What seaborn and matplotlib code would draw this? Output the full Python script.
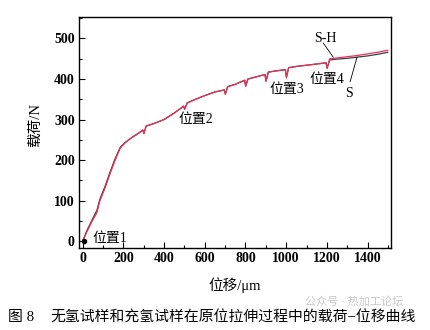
import matplotlib
matplotlib.use("Agg")
import matplotlib.pyplot as plt
import numpy as np
import pandas as pd
import seaborn as sns
from matplotlib.ticker import MultipleLocator

# Load-displacement readings for the hydrogen-free (S) and hydrogen-charged (S-H) specimens
disp_um = [0, 20, 45, 70, 85, 110, 135, 160, 185, 210, 240, 265, 296, 301, 312,
           350, 400, 450, 496, 501, 514, 550, 600, 650, 696, 701, 712, 750,
           796, 801, 812, 850, 896, 901, 912, 950, 996, 1001, 1012, 1050,
           1100, 1150, 1196, 1201, 1214, 1250, 1300, 1350, 1400, 1450, 1500]
load_sh = [0, 22, 48, 70, 100, 131, 167, 200, 230, 243, 255, 263, 274, 265, 284,
           290, 300, 316, 333, 325, 341, 349, 359, 368, 373, 362, 381, 387,
           397, 382, 400, 405, 411, 394, 417, 420, 423, 403, 428, 431,
           434, 437, 440, 426, 450, 452, 455, 458, 462, 466, 471]
load_s = [0, 25, 51, 76, 104, 135, 171, 204, 232, 244, 255, 263, 274, 266, 284,
          290, 300, 316, 333, 326, 341, 349, 359, 368, 373, 363, 381, 387,
          397, 383, 400, 405, 411, 395, 417, 420, 423, 404, 428, 431,
          434, 437, 440, 427, 447, 449, 451, 454, 457, 461, 466]

xtick_vals = [0, 200, 400, 600, 800, 1000, 1200, 1400]
ytick_vals = [0, 100, 200, 300, 400, 500]

# Observation positions: label text, label anchor (x, y)
pos_labels = ["位置1", "位置2", "位置3", "位置4"]
pos_xy = [(46, 7), (557, 301), (1001, 375), (1198, 400)]

sns.set_theme(style="ticks")
plt.rcParams["font.family"] = ["Liberation Serif", "Noto Sans CJK SC"]

df = pd.concat([
    pd.DataFrame({"disp": disp_um, "load": load_s, "specimen": "S"}),
    pd.DataFrame({"disp": disp_um, "load": load_sh, "specimen": "S-H"}),
])

fig = plt.figure(figsize=(4.3, 3.3), dpi=100)
ax = fig.add_axes([79 / 430, 82 / 330, 312 / 430, 231 / 330])

sns.lineplot(data=df, x="disp", y="load", hue="specimen", hue_order=["S", "S-H"],
             palette={"S": "#34404a", "S-H": "#ec2f52"}, linewidth=0.9,
             estimator=None, sort=False, legend=False, ax=ax)

ax.plot(disp_um[0] + 6, load_sh[0], "o", color="black", ms=3, zorder=5)

ax.set_xlim(-18, 1515)
ax.set_ylim(-17, 553)
ax.set_xticks(xtick_vals)
ax.set_xticklabels([str(v) for v in xtick_vals], fontweight="bold", fontsize=10)
ax.set_yticks(ytick_vals)
ax.set_yticklabels([str(v) for v in ytick_vals], fontweight="bold", fontsize=10)
ax.xaxis.set_minor_locator(MultipleLocator(100))
ax.yaxis.set_minor_locator(MultipleLocator(50))
ax.tick_params(which="both", direction="in", top=False, right=False,
               width=0.8, color="black", labelcolor="black")
ax.tick_params(which="major", length=4, pad=3)
ax.tick_params(which="minor", length=2.5)
for sp in ax.spines.values():
    sp.set_visible(True)
    sp.set_linewidth(1.0)
    sp.set_color("black")

ax.set_xlabel("位移/μm", fontsize=10.5, color="black")
ax.set_ylabel("载荷/N", fontsize=10.5, color="black")
ax.xaxis.set_label_coords(0.5, -0.128)
ax.yaxis.set_label_coords(-0.118, 0.532)

for (lx, ly), txt in zip(pos_xy, pos_labels):
    ha = "left" if txt == "位置1" else "center"
    ax.text(lx, ly, txt, fontsize=10, ha=ha, va="center", color="black")

# Specimen labels with leader lines
ax.text(1191, 499, "S-H", fontsize=10, ha="center", va="center", color="black")
ax.plot([1182, 1231], [489, 454], color="black", lw=0.6)
ax.text(1311, 365, "S", fontsize=10, ha="center", va="center", color="black")
ax.plot([1314, 1348], [393, 454], color="black", lw=0.6)

fig.text(305 / 430, 1 - 302 / 330, "公众号 · 热加工论坛", fontsize=8,
         color="#c8c8c8", ha="left", va="center", zorder=0)
fig.text(8 / 430, 1 - 318 / 330, "图 8", fontsize=10.7, ha="left", va="center", color="black")
fig.text(50 / 430, 1 - 318 / 330, "无氢试样和充氢试样在原位拉伸过程中的载荷−位移曲线",
         fontsize=10.7, ha="left", va="center", color="black")

fig.savefig("out.png", dpi=100)
